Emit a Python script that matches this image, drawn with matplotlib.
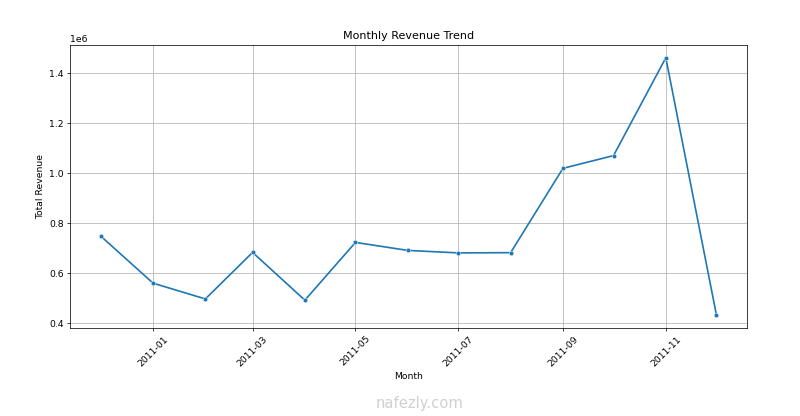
import pandas as pd
import matplotlib
matplotlib.use("Agg")
import matplotlib.pyplot as plt

# monthly totals (units of 1e6 handled by the axis offset)
months = ["2010-12", "2011-01", "2011-02", "2011-03", "2011-04", "2011-05", "2011-06",
          "2011-07", "2011-08", "2011-09", "2011-10", "2011-11", "2011-12"]
revenue = [748000, 560000, 497000, 683000, 492000, 723000, 691000,
           681000, 682000, 1019000, 1070000, 1461000, 433000]

dates = pd.to_datetime(months)

# 12x6.24 inch figure scaled down to 800x416 px
fig = plt.figure(figsize=(12, 6.24), dpi=800 / 12)
ax = fig.add_subplot(111)
fig.subplots_adjust(left=0.0875, right=0.934, top=0.892, bottom=0.212)

ax.plot(dates, revenue, color="#1f77b4", marker="o", markersize=5,
        markeredgecolor="white", markeredgewidth=0.5, linewidth=1.8)

ax.set_title("Monthly Revenue Trend")
ax.set_xlabel("Month")
ax.set_ylabel("Total Revenue")
ax.grid(True)
plt.setp(ax.get_xticklabels(), rotation=45)

fig.text(0.525, 0.02, "nafezly.com", color="#d0d0d0", fontsize=16, ha="center")

fig.savefig("out.png")
